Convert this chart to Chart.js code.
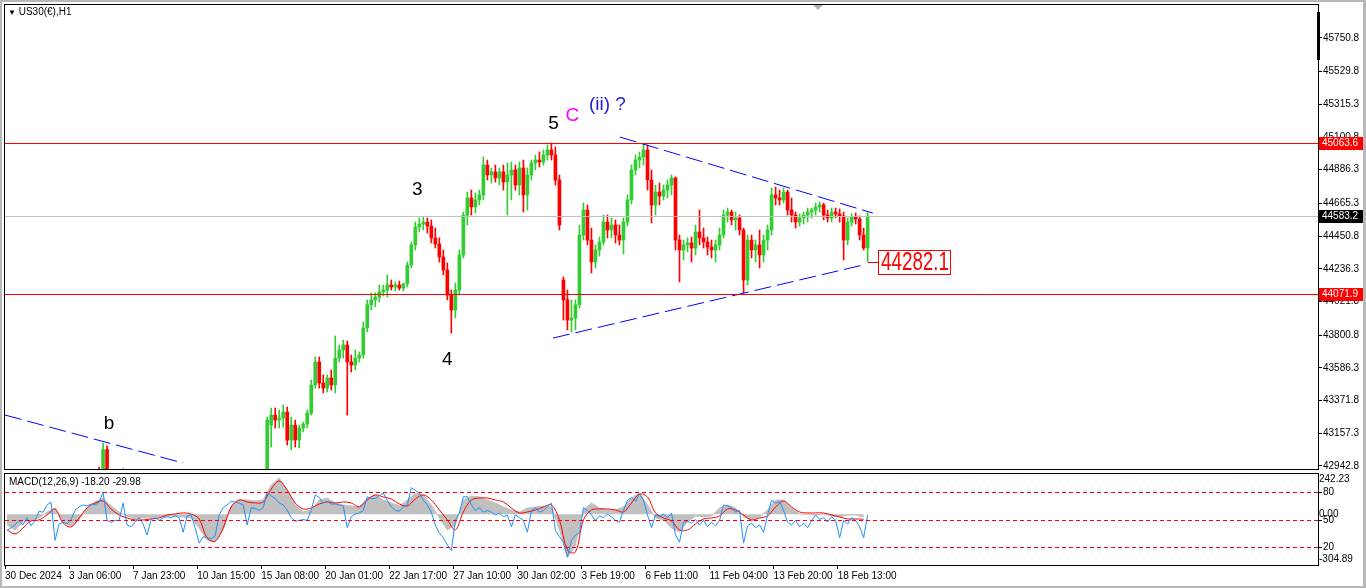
<!DOCTYPE html>
<html>
<head>
<meta charset="utf-8">
<script src="https://cdn.jsdelivr.net/npm/chart.js@4.4.1/dist/chart.umd.min.js"></script>
<style>
html, body { margin: 0; padding: 0; background: #fff; }
body { width: 1366px; height: 588px; position: relative; overflow: hidden; font-family: 'Liberation Sans', Arial, sans-serif; }
#priceBox { position: absolute; left: 0; top: 0; width: 1366px; height: 471px; }
#macdBox { position: absolute; left: 0; top: 471px; width: 1366px; height: 117px; }
#frame { position: absolute; left: 0; top: 0; width: 1366px; height: 588px; box-sizing: border-box; border: solid #b8b8b8; border-width: 2px 3px 2px 2px; pointer-events: none; }
.txt { position: absolute; font-size: 10px; color: #000; white-space: nowrap; }
#shift { position: absolute; left: 813px; top: 5px; width: 0; height: 0; border-left: 5px solid transparent; border-right: 5px solid transparent; border-top: 5px solid #b4b4b4; }
#fixbar { position: absolute; left: 1317px; top: 12px; width: 3px; height: 48px; background: #000; }
</style>
</head>
<body>
<div id="priceBox"><canvas id="price" width="1366" height="471"></canvas></div>
<div id="macdBox"><canvas id="macd" width="1366" height="117"></canvas></div>
<div class="txt" style="left:8px;top:6px;"><span style="font-size:8px;">&#9660;</span> US30(€),H1</div>
<div class="txt" style="left:9px;top:476px;">MACD(12,26,9) -18.20 -29.98</div>
<div id="shift"></div>
<div id="fixbar"></div>
<div id="frame"></div>
<script>
// H4-grouped bars, bar index 0 = 30 Dec 2024
var TOTAL_BARS = 328;
var FIRST_BAR = 65;
var GREEN = '#32cd32';
var RED = '#ff0000';

var timeLabels = ['30 Dec 2024', '3 Jan 06:00', '7 Jan 23:00', '10 Jan 15:00', '15 Jan 08:00', '20 Jan 01:00',
    '22 Jan 17:00', '27 Jan 10:00', '30 Jan 02:00', '3 Feb 19:00', '6 Feb 11:00', '11 Feb 04:00',
    '13 Feb 20:00', '18 Feb 13:00'];
var labelStep = 16;

var priceTicks = [45750.8, 45529.8, 45315.3, 45100.8, 44886.3, 44665.3, 44450.8, 44236.3,
    44021.8, 43800.8, 43586.3, 43371.8, 43157.3, 42942.8];

var opens = [42916, 43211, 43277, 43244, 43257, 43297, 43113, 43211, 43113, 43192,
    43218, 43290, 43474, 43625, 43487, 43454, 43520, 43474, 43651, 43704,
    43737, 43625, 43605, 43651, 43671, 43848, 44001, 44032, 44051, 44084,
    44097, 44130, 44117, 44130, 44110, 44137, 44261, 44393, 44511, 44530,
    44543, 44517, 44439, 44399, 44314, 44229, 44064, 43966, 44097, 44327,
    44589, 44701, 44642, 44688, 44721, 44917, 44852, 44872, 44832, 44872,
    44806, 44852, 44885, 44786, 44898, 44721, 44852, 44931, 44950, 44937,
    44983, 45016, 44983, 44819, 44163, 44032, 43900, 43914, 44001, 44458,
    44622, 44425, 44281, 44360, 44412, 44543, 44491, 44524, 44458, 44425,
    44543, 44688, 44885, 44950, 44970, 45016, 44819, 44655, 44740, 44714,
    44753, 44786, 44832, 44425, 44360, 44393, 44406, 44373, 44478, 44439,
    44412, 44379, 44360, 44393, 44458, 44589, 44609, 44557, 44570, 44491,
    44163, 44425, 44360, 44393, 44327, 44425, 44491, 44721, 44701, 44688,
    44740, 44622, 44589, 44543, 44570, 44589, 44609, 44622, 44642, 44655,
    44589, 44570, 44609, 44596, 44583, 44425, 44543, 44576, 44563, 44458,
    44373];
var highs = [43264, 43323, 43323, 43310, 43343, 43330, 43264, 43244, 43211, 43231,
    43310, 43507, 43658, 43658, 43540, 43540, 43572, 43796, 43737, 43769,
    43763, 43671, 43704, 43691, 43887, 44032, 44078, 44078, 44130, 44130,
    44196, 44163, 44150, 44156, 44143, 44281, 44412, 44543, 44570, 44576,
    44570, 44557, 44504, 44439, 44360, 44275, 44097, 44143, 44360, 44609,
    44740, 44753, 44734, 44753, 44970, 44950, 44898, 44917, 44898, 44917,
    44931, 44937, 44917, 44937, 44950, 44898, 44950, 44983, 45003, 45016,
    45049, 45062, 45036, 44852, 44183, 44097, 44032, 44032, 44524, 44668,
    44655, 44504, 44393, 44445, 44589, 44589, 44570, 44557, 44524, 44570,
    44721, 44917, 44983, 45003, 45055, 45049, 44885, 44786, 44799, 44786,
    44819, 44852, 44839, 44458, 44425, 44439, 44445, 44524, 44622, 44504,
    44445, 44425, 44425, 44504, 44622, 44635, 44622, 44609, 44589, 44504,
    44458, 44458, 44425, 44491, 44458, 44524, 44767, 44773, 44753, 44767,
    44753, 44701, 44609, 44596, 44609, 44635, 44635, 44668, 44675, 44668,
    44622, 44635, 44635, 44629, 44609, 44570, 44596, 44603, 44583, 44504,
    44603];
var lows = [42903, 43067, 43192, 43192, 43198, 43080, 43048, 43067, 43061, 43166,
    43192, 43277, 43454, 43454, 43422, 43428, 43441, 43422, 43625, 43651,
    43277, 43559, 43572, 43625, 43651, 43822, 43966, 43986, 44019, 44058,
    44051, 44097, 44091, 44097, 44091, 44117, 44242, 44360, 44478, 44491,
    44471, 44406, 44373, 44281, 44196, 44032, 43815, 43914, 44064, 44307,
    44524, 44589, 44603, 44655, 44688, 44819, 44799, 44806, 44786, 44753,
    44589, 44688, 44753, 44721, 44609, 44622, 44819, 44885, 44904, 44917,
    44950, 44950, 44786, 44491, 43900, 43835, 43822, 43835, 43979, 44425,
    44393, 44209, 44242, 44320, 44393, 44439, 44439, 44406, 44393, 44334,
    44517, 44662, 44852, 44898, 44917, 44753, 44537, 44589, 44655, 44688,
    44701, 44721, 44360, 44150, 44294, 44347, 44281, 44327, 44393, 44373,
    44327, 44307, 44281, 44360, 44439, 44543, 44524, 44491, 44458, 44078,
    44130, 44307, 44281, 44242, 44281, 44360, 44458, 44655, 44655, 44668,
    44589, 44543, 44504, 44517, 44530, 44543, 44570, 44589, 44609, 44557,
    44543, 44543, 44570, 44543, 44294, 44393, 44517, 44530, 44425, 44360,
    44282];
var closes = [43244, 43277, 43244, 43257, 43297, 43113, 43211, 43113, 43192, 43218,
    43290, 43474, 43625, 43487, 43454, 43520, 43474, 43651, 43704, 43737,
    43625, 43605, 43651, 43671, 43848, 44001, 44032, 44051, 44084, 44097,
    44130, 44117, 44130, 44110, 44137, 44261, 44393, 44511, 44530, 44543,
    44517, 44439, 44399, 44314, 44229, 44064, 43966, 44097, 44327, 44589,
    44701, 44642, 44688, 44721, 44917, 44852, 44872, 44832, 44872, 44806,
    44852, 44885, 44786, 44898, 44721, 44852, 44931, 44950, 44937, 44983,
    45016, 44983, 44819, 44524, 44032, 43900, 43914, 44001, 44458, 44622,
    44425, 44281, 44360, 44412, 44543, 44491, 44524, 44458, 44425, 44543,
    44688, 44885, 44950, 44970, 45016, 44819, 44655, 44740, 44714, 44753,
    44786, 44832, 44425, 44360, 44393, 44406, 44373, 44478, 44439, 44412,
    44379, 44360, 44393, 44458, 44589, 44609, 44557, 44570, 44491, 44163,
    44425, 44360, 44393, 44327, 44425, 44491, 44721, 44701, 44688, 44740,
    44622, 44589, 44543, 44570, 44589, 44609, 44622, 44642, 44655, 44589,
    44570, 44609, 44596, 44583, 44425, 44543, 44576, 44563, 44458, 44373,
    44583];

// the lone wave b spike poking up from below the visible range
var spikeBars = [23, 24, 25, 29];
var spikeOpen = [42905, 42870, 43050, 42880];
var spikeHigh = [42935, 43093, 43075, 42926];
var spikeLow = [42850, 42840, 42860, 42850];
var spikeClose = [42870, 43050, 42890, 42915];

var levelPrices = [45063.6, 44583.2, 44071.9];
var levelColors = ['#ff0000', '#c0c0c0', '#ff0000'];
var levelBoxColors = ['#ff0000', '#000000', '#ff0000'];
var markPrice = 44282.1;
var markBar = 216;

// trendlines: [bar, price] pairs
var upperLine = [[153.6, 45101], [216.8, 44602]];
var lowerLine = [[136.9, 43782], [214.3, 44261]];
var oldLine = [[0, 43277], [44.5, 42962]];

var waveLabels = [
    { text: 'b', bar: 26, price: 43218, color: '#000000' },
    { text: '3', bar: 103, price: 44753, color: '#000000' },
    { text: '4', bar: 110.5, price: 43638, color: '#000000' },
    { text: '5', bar: 137, price: 45186, color: '#000000' },
    { text: 'C', bar: 141.75, price: 45239, color: '#ff00ff' },
    { text: '(ii) ?', bar: 150.5, price: 45311, color: '#1c1cd8' }
];

// MACD main / signal, one value every 2 bars
var macdMain = [-64, -94, -46, -34, -22, 14, 38, -46, -70, -34,
    38, 74, 98, 50, 14, -10, -28, -22, -22, -16,
    -10, -10, -16, -22, -82, -155, -167, -94, 50, 86,
    86, 80, 86, 176, 218, 146, 56, 14, 26, 86,
    98, 68, 56, 50, 44, 98, 116, 86, 68, 50,
    86, 128, 116, 56, -22, -94, -64, 86, 110, 104,
    86, 68, 44, 26, 14, 38, 44, 50, 44, -94,
    -263, -185, 26, 68, 38, 26, 26, 44, 98, 128,
    56, -22, -34, -82, -107, -46, -10, -16, -10, 38,
    56, 38, -16, -34, -16, 26, 86, 86, 38, 2,
    2, -4, 2, -10, -16, -4, -4, -18.2];
var macdSignal = [-94, -118, -82, -40, -34, -4, 32, -52, -76, -22,
    38, 68, 80, 32, -4, -22, -34, -34, -28, -22,
    -4, 2, 8, 2, -28, -143, -161, -82, 44, 86,
    74, 68, 74, 152, 200, 146, 68, 32, 38, 62,
    74, 68, 74, 68, 44, 86, 116, 104, 92, 62,
    50, 92, 116, 86, 26, -34, -94, 14, 86, 98,
    98, 86, 74, 38, 8, 14, 26, 44, 56, -34,
    -215, -227, -34, 26, 32, 32, 26, 14, 68, 122,
    104, 8, -22, -40, -94, -94, -58, -28, -22, -10,
    32, 26, -4, -34, -22, -10, 44, 80, 44, 14,
    8, 8, 8, -4, -16, -28, -28, -29.98];
var macdStep = 2;

// blue oscillator (0..100 scale), one value per bar
var osc = [38, 41, 44, 49, 44, 52, 43, 49, 59, 58,
    66, 69, 27, 45, 47, 45, 50, 60, 64, 66,
    65, 67, 66, 69, 80, 49, 47, 49, 49, 68,
    44, 42, 47, 52, 45, 33, 50, 52, 49, 52,
    53, 52, 54, 52, 36, 54, 55, 41, 24, 31,
    30, 29, 32, 55, 63, 66, 70, 69, 68, 66,
    44, 63, 62, 60, 63, 80, 76, 73, 68, 66,
    60, 52, 48, 49, 50, 49, 60, 77, 74, 68,
    70, 67, 67, 66, 65, 41, 53, 56, 57, 60,
    75, 73, 73, 76, 79, 71, 64, 60, 59, 64,
    66, 85, 82, 79, 71, 66, 58, 44, 35, 30,
    22, 16, 49, 57, 75, 75, 66, 60, 63, 58,
    60, 58, 55, 57, 53, 55, 42, 55, 52, 49,
    36, 60, 63, 58, 60, 64, 68, 38, 31, 25,
    9, 27, 33, 35, 63, 60, 55, 49, 54, 52,
    56, 53, 49, 47, 60, 71, 74, 70, 78, 71,
    55, 41, 55, 53, 56, 52, 57, 33, 25, 47,
    48, 46, 50, 44, 49, 42, 47, 43, 49, 66,
    65, 63, 58, 60, 24, 43, 46, 41, 44, 36,
    55, 71, 68, 70, 60, 47, 44, 49, 42, 46,
    41, 49, 55, 50, 52, 47, 53, 49, 30, 49,
    45, 52, 49, 42, 30, 55];
var oscLevels = [80, 50, 20];
var macdTicks = [242.23, 0, -304.89];

var axisFont = { family: "'Liberation Sans', Arial, sans-serif", size: 10 };

// candles as floating bars: a thin wick bar and a wider body bar
var wickData = [], bodyData = [], candleColors = [];
function addCandle(bar, o, h, l, c) {
    wickData.push({ x: bar + 0.5, y: [l, h] });
    bodyData.push({ x: bar + 0.5, y: [o, c] });
    candleColors.push(c >= o ? GREEN : RED);
}
for (var s = 0; s < spikeBars.length; s++) {
    addCandle(spikeBars[s], spikeOpen[s], spikeHigh[s], spikeLow[s], spikeClose[s]);
}
for (var i = 0; i < opens.length; i++) {
    addCandle(FIRST_BAR + i, opens[i], highs[i], lows[i], closes[i]);
}

function toPoints(pairs) {
    return pairs.map(function (p) { return { x: p[0], y: p[1] }; });
}
function trendSet(pairs) {
    return {
        type: 'line', data: toPoints(pairs), borderColor: '#0000ff', borderWidth: 1,
        borderDash: [17, 6], pointRadius: 0, clip: 0, order: 0
    };
}

function frameArea(chart) {
    var a = chart.chartArea, ctx = chart.ctx;
    ctx.save();
    ctx.strokeStyle = '#000';
    ctx.lineWidth = 1;
    ctx.strokeRect(a.left - 0.5, a.top - 0.5, a.right - a.left + 1, a.bottom - a.top + 1);
    ctx.restore();
}

var priceDecor = {
    id: 'priceDecor',
    afterDatasetsDraw: function (chart) {
        var ctx = chart.ctx, a = chart.chartArea, y = chart.scales.y;
        ctx.save();
        ctx.lineWidth = 1;
        levelPrices.forEach(function (lv, n) {
            var py = Math.round(y.getPixelForValue(lv)) + 0.5;
            ctx.strokeStyle = levelColors[n];
            ctx.beginPath();
            ctx.moveTo(a.left, py);
            ctx.lineTo(a.right, py);
            ctx.stroke();
        });
        ctx.restore();
    },
    afterDraw: function (chart) {
        var ctx = chart.ctx, a = chart.chartArea, x = chart.scales.x, y = chart.scales.y;
        frameArea(chart);
        ctx.save();
        // price tags on the axis
        ctx.font = "10px 'Liberation Sans', Arial, sans-serif";
        ctx.textBaseline = 'middle';
        levelPrices.forEach(function (lv, n) {
            var py = Math.round(y.getPixelForValue(lv));
            ctx.fillStyle = levelBoxColors[n];
            ctx.fillRect(a.right + 1, py - 6, 44, 13);
            ctx.fillStyle = '#fff';
            ctx.fillText(lv.toFixed(1), a.right + 4, py + 0.5);
        });
        // wave labels
        ctx.textAlign = 'center';
        ctx.font = "19px 'Liberation Sans', Arial, sans-serif";
        waveLabels.forEach(function (w) {
            ctx.fillStyle = w.color;
            ctx.fillText(w.text, x.getPixelForValue(w.bar), y.getPixelForValue(w.price));
        });
        // marked price
        var mx = Math.round(x.getPixelForValue(markBar)), my = Math.round(y.getPixelForValue(markPrice));
        ctx.strokeStyle = RED;
        ctx.lineWidth = 1;
        ctx.beginPath();
        ctx.moveTo(mx - 2, my + 0.5);
        ctx.lineTo(mx + 8, my + 0.5);
        ctx.stroke();
        ctx.fillStyle = '#fff';
        ctx.fillRect(mx + 8, my - 12, 73, 25);
        ctx.strokeRect(mx + 8.5, my - 11.5, 72, 24);
        ctx.font = "26px 'Liberation Sans', Arial, sans-serif";
        var txt = markPrice.toFixed(1);
        var tw = ctx.measureText(txt).width;
        ctx.translate(mx + 45, my + 1);
        ctx.scale(68 / tw, 1);
        ctx.fillStyle = RED;
        ctx.fillText(txt, 0, 0);
        ctx.restore();
    }
};

new Chart(document.getElementById('price'), {
    type: 'bar',
    data: {
        datasets: [
            { data: wickData, backgroundColor: candleColors, barThickness: 1, grouped: false, clip: 0, order: 2 },
            { data: bodyData, backgroundColor: candleColors, barThickness: 3, grouped: false, clip: 0, order: 1 },
            trendSet(upperLine),
            trendSet(lowerLine),
            trendSet(oldLine)
        ]
    },
    options: {
        responsive: false,
        animation: false,
        devicePixelRatio: 1,
        events: [],
        layout: { padding: { left: 5, top: 5, right: 0, bottom: 2 } },
        plugins: { legend: { display: false }, tooltip: { enabled: false } },
        scales: {
            x: { type: 'linear', min: 0, max: TOTAL_BARS, offset: false, display: false, grid: { offset: false } },
            y: {
                position: 'right', min: 42923, max: 45967,
                afterBuildTicks: function (s) { s.ticks = priceTicks.map(function (v) { return { value: v }; }); },
                afterFit: function (s) { s.width = 48; s.paddingTop = 0; s.paddingBottom = 0; },
                ticks: { autoSkip: false, color: '#000', font: axisFont, padding: 1, callback: function (v) { return v.toFixed(1); } },
                grid: { drawOnChartArea: false, tickLength: 4, color: '#000' },
                border: { display: false }
            }
        }
    },
    plugins: [priceDecor]
});

var mainPts = macdMain.map(function (v, k) { return { x: k * macdStep + 0.5, y: v }; });
var signalPts = macdSignal.map(function (v, k) { return { x: k * macdStep + 0.5, y: v }; });
var oscPts = osc.map(function (v, k) { return { x: k + 0.5, y: v }; });

var macdDecor = {
    id: 'macdDecor',
    afterDatasetsDraw: function (chart) {
        var ctx = chart.ctx, a = chart.chartArea, lv = chart.scales.lv;
        ctx.save();
        ctx.strokeStyle = RED;
        ctx.lineWidth = 1;
        ctx.setLineDash([4, 3]);
        oscLevels.forEach(function (v) {
            var py = Math.round(lv.getPixelForValue(v)) + 0.5;
            ctx.beginPath();
            ctx.moveTo(a.left, py);
            ctx.lineTo(a.right, py);
            ctx.stroke();
        });
        ctx.restore();
    },
    afterDraw: function (chart) {
        var ctx = chart.ctx, a = chart.chartArea, lv = chart.scales.lv;
        frameArea(chart);
        ctx.save();
        ctx.font = "10px 'Liberation Sans', Arial, sans-serif";
        ctx.textBaseline = 'middle';
        ctx.fillStyle = '#000';
        ctx.strokeStyle = '#000';
        oscLevels.forEach(function (v) {
            var py = Math.round(lv.getPixelForValue(v)) + 0.5;
            ctx.beginPath();
            ctx.moveTo(a.right, py);
            ctx.lineTo(a.right + 4, py);
            ctx.stroke();
            ctx.fillText(String(v), a.right + 5, py);
        });
        ctx.restore();
    }
};

new Chart(document.getElementById('macd'), {
    type: 'line',
    data: {
        datasets: [
            { data: mainPts, yAxisID: 'y', borderColor: '#c0c0c0', backgroundColor: '#c0c0c0', borderWidth: 1, fill: 'origin', pointRadius: 0, tension: 0, order: 3 },
            { data: signalPts, yAxisID: 'y', borderColor: RED, borderWidth: 1, fill: false, pointRadius: 0, tension: 0.35, order: 2 },
            { data: oscPts, yAxisID: 'lv', borderColor: '#1e90ff', borderWidth: 1, fill: false, pointRadius: 0, tension: 0, order: 1 }
        ]
    },
    options: {
        responsive: false,
        animation: false,
        devicePixelRatio: 1,
        events: [],
        layout: { padding: { left: 5, top: 3, right: 0, bottom: 0 } },
        plugins: { legend: { display: false }, tooltip: { enabled: false } },
        scales: {
            x: {
                type: 'linear', min: 0, max: TOTAL_BARS, offset: false,
                afterBuildTicks: function (s) {
                    s.ticks = timeLabels.map(function (t, k) { return { value: k * labelStep }; });
                },
                afterFit: function (s) { s.height = 23; s.paddingLeft = 0; s.paddingRight = 0; },
                ticks: {
                    autoSkip: false, maxRotation: 0, align: 'start', color: '#000', font: axisFont, padding: 1,
                    callback: function (v, k) { return timeLabels[k]; }
                },
                grid: { drawOnChartArea: false, tickLength: 4, color: '#000' },
                border: { display: false }
            },
            y: {
                position: 'right', min: -304.89, max: 242.23,
                afterBuildTicks: function (s) {
                    var inset = (s.max - s.min) * 0.06;
                    s.ticks = macdTicks.map(function (v) {
                        return { value: v === s.max ? v - inset : (v === s.min ? v + inset : v) };
                    });
                },
                afterFit: function (s) { s.width = 48; s.paddingTop = 0; s.paddingBottom = 0; },
                ticks: { autoSkip: false, color: '#000', font: axisFont, padding: 1, callback: function (v, k) { return macdTicks[k].toFixed(2); } },
                grid: { drawOnChartArea: false, drawTicks: false, color: '#000' },
                border: { display: false }
            },
            lv: { position: 'right', min: 0, max: 100, display: false }
        }
    },
    plugins: [macdDecor]
});
</script>
</body>
</html>
